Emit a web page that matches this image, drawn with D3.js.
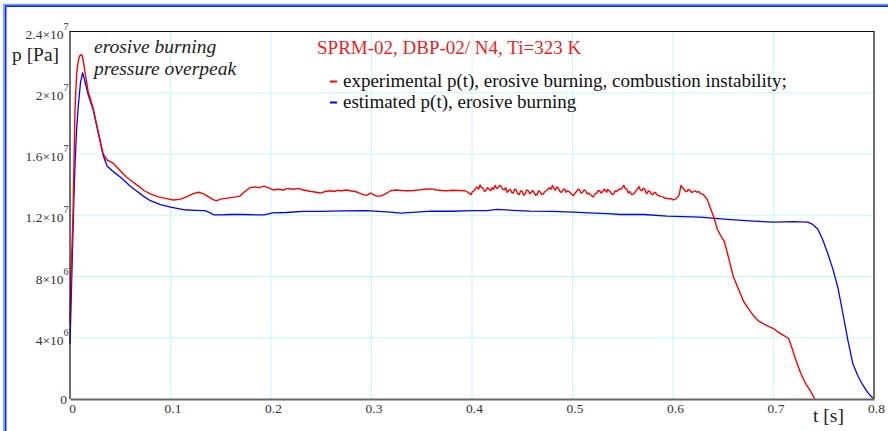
<!DOCTYPE html>
<html>
<head>
<meta charset="utf-8">
<title>SPRM-02 pressure p(t)</title>
<script src="https://d3js.org/d3.v7.min.js"></script>
<style>
  body { margin: 0; background: #fff; }
  svg { display: block; }
  text { font-family: "Liberation Serif", "Times New Roman", serif; }
</style>
</head>
<body>
<div id="chart"></div>
<script>
// experimental p(t): [t in s, p in 10^6 Pa]
var expPts = [
  [0.000,5.0],[0.001,8.0],[0.002,10.0],[0.003,12.0],[0.004,15.5],[0.005,19.0],[0.0066,21.2],[0.008,22.0],[0.0095,22.4],[0.0116,22.5],
  [0.013,22.2],[0.015,21.3],[0.018,20.1],[0.023,19.0],[0.028,17.5],[0.033,16.0],[0.037,15.6],[0.043,15.4],[0.050,14.9],[0.056,14.5],
  [0.062,14.2],[0.068,13.9],[0.074,13.6],[0.080,13.4],[0.088,13.2],[0.095,13.1],[0.103,13.0],[0.110,13.05],[0.116,13.2],[0.122,13.4],
  [0.128,13.5],[0.133,13.4],[0.138,13.2],[0.143,13.0],[0.146,12.95],[0.150,13.05],[0.155,13.1],[0.160,13.15],[0.165,13.2],[0.169,13.25],
  [0.174,13.55],[0.179,13.8],[0.184,13.85],[0.188,13.8],[0.193,13.9],[0.197,13.8],[0.202,13.65],[0.207,13.7],[0.212,13.65],[0.217,13.75],
  [0.222,13.7],[0.227,13.75],[0.232,13.65],[0.236,13.6],[0.240,13.55],[0.245,13.5],[0.249,13.45],[0.254,13.55],[0.259,13.6],[0.263,13.55],
  [0.266,13.62],[0.270,13.6],[0.275,13.65],[0.280,13.58],[0.284,13.55],[0.288,13.45],[0.292,13.35],[0.295,13.3],[0.299,13.45],[0.302,13.35],
  [0.305,13.25],[0.309,13.25],[0.314,13.4],[0.319,13.6],[0.324,13.65],[0.330,13.62],[0.336,13.6],[0.342,13.62],[0.348,13.66],[0.353,13.7],
  [0.359,13.72],[0.365,13.65],[0.370,13.62],[0.375,13.6],[0.381,13.63],[0.387,13.62],[0.393,13.6],[0.396,13.5],[0.399,13.35],[0.4005,13.55],
  [0.402,13.6],[0.4035,13.75],[0.405,13.85],[0.4065,13.7],[0.408,13.98],[0.4095,13.8],[0.411,13.75],[0.4125,13.55],[0.414,13.62],[0.4155,13.8],
  [0.417,13.7],[0.4185,13.6],[0.420,13.8],[0.4215,13.7],[0.423,13.95],[0.4245,13.75],[0.426,13.8],[0.4275,13.95],[0.429,13.9],[0.4305,13.7],
  [0.432,13.65],[0.4335,13.8],[0.435,13.5],[0.4365,13.62],[0.438,13.7],[0.4395,13.5],[0.441,13.45],[0.4425,13.7],[0.444,13.65],[0.4455,13.4],
  [0.447,13.35],[0.4485,13.6],[0.450,13.55],[0.4515,13.3],[0.453,13.4],[0.4545,13.65],[0.456,13.6],[0.4575,13.4],[0.459,13.5],[0.4605,13.62],
  [0.462,13.45],[0.4635,13.3],[0.465,13.38],[0.4665,13.6],[0.468,13.5],[0.4695,13.35],[0.471,13.4],[0.4725,13.55],[0.474,13.6],[0.4755,13.7],
  [0.477,13.8],[0.4785,13.7],[0.480,13.95],[0.4815,13.75],[0.483,13.65],[0.4845,13.85],[0.486,13.75],[0.4875,13.55],[0.489,13.5],[0.4905,13.65],
  [0.492,13.72],[0.4935,13.5],[0.495,13.6],[0.4965,13.55],[0.498,13.45],[0.4995,13.35],[0.501,13.28],[0.5025,13.45],[0.504,13.55],[0.5055,13.7],
  [0.507,13.65],[0.5085,13.45],[0.510,13.5],[0.5115,13.65],[0.513,13.6],[0.5145,13.4],[0.516,13.45],[0.5175,13.35],[0.519,13.3],[0.520,13.2],
  [0.521,13.22],[0.5225,13.4],[0.524,13.45],[0.5255,13.6],[0.527,13.6],[0.5285,13.45],[0.530,13.55],[0.5315,13.7],[0.533,13.6],[0.534,13.5],
  [0.535,13.68],[0.5365,13.6],[0.538,13.5],[0.5395,13.35],[0.541,13.4],[0.5425,13.6],[0.544,13.55],[0.546,13.7],[0.548,13.7],[0.5495,13.8],
  [0.551,13.95],[0.5525,13.75],[0.554,13.7],[0.5555,13.45],[0.557,13.55],[0.559,13.35],[0.561,13.4],[0.5625,13.55],[0.564,13.65],[0.565,13.75],
  [0.566,13.88],[0.5675,13.65],[0.569,13.6],[0.5705,13.75],[0.572,13.7],[0.573,13.5],[0.574,13.4],[0.5755,13.6],[0.577,13.55],[0.5785,13.4],
  [0.580,13.35],[0.5815,13.5],[0.583,13.45],[0.5845,13.3],[0.586,13.28],[0.588,13.22],[0.590,13.2],[0.592,13.1],[0.594,13.12],[0.596,13.05],
  [0.598,13.1],[0.600,13.0],[0.603,13.07],[0.606,13.3],[0.608,13.95],[0.6095,13.8],[0.611,13.7],[0.6125,13.55],[0.614,13.57],[0.6155,13.7],
  [0.617,13.62],[0.6185,13.5],[0.620,13.52],[0.622,13.6],[0.624,13.5],[0.6255,13.55],[0.627,13.45],[0.630,13.35],[0.634,13.05],[0.637,12.5],
  [0.641,11.8],[0.644,11.1],[0.648,10.6],[0.651,10.3],[0.655,9.3],[0.660,8.0],[0.665,7.2],[0.670,6.4],[0.675,5.9],[0.680,5.45],
  [0.685,5.1],[0.690,4.9],[0.695,4.75],[0.700,4.6],[0.705,4.35],[0.710,4.15],[0.715,3.95],[0.718,3.4],[0.722,2.6],[0.727,1.7],
  [0.732,1.0],[0.737,0.5],[0.741,0.0]
];

// estimated p(t): [t in s, p in 10^6 Pa]
var estPts = [
  [0.000,3.6],[0.001,6.0],[0.002,8.5],[0.003,11.0],[0.004,13.3],[0.005,15.3],[0.0065,17.5],[0.0083,19.2],[0.0105,20.7],[0.0126,21.3],
  [0.015,20.7],[0.018,19.9],[0.023,18.9],[0.028,17.4],[0.033,15.9],[0.037,15.2],[0.043,14.85],[0.050,14.5],[0.055,14.2],[0.060,13.9],
  [0.066,13.6],[0.073,13.25],[0.080,12.95],[0.090,12.7],[0.100,12.53],[0.113,12.36],[0.125,12.32],[0.134,12.3],[0.138,12.2],[0.143,12.03],
  [0.150,12.02],[0.160,12.05],[0.173,12.05],[0.185,12.02],[0.193,12.02],[0.202,12.15],[0.215,12.18],[0.232,12.25],[0.250,12.25],[0.270,12.28],
  [0.295,12.3],[0.319,12.2],[0.329,12.14],[0.345,12.2],[0.359,12.27],[0.380,12.26],[0.400,12.3],[0.415,12.3],[0.425,12.38],[0.440,12.32],
  [0.458,12.27],[0.480,12.25],[0.501,12.2],[0.521,12.14],[0.535,12.1],[0.548,12.05],[0.571,12.05],[0.594,11.94],[0.627,11.88],[0.654,11.73],
  [0.680,11.62],[0.700,11.55],[0.720,11.58],[0.734,11.55],[0.739,11.4],[0.744,11.1],[0.749,10.4],[0.754,9.5],[0.759,8.5],[0.764,7.3],
  [0.769,5.6],[0.774,3.84],[0.779,2.3],[0.784,1.5],[0.789,0.9],[0.794,0.4],[0.799,0.05]
];

var xTicks = [0, 0.1, 0.2, 0.3, 0.4, 0.5, 0.6, 0.7, 0.8];
var xTickLabels = ["0", "0.1", "0.2", "0.3", "0.4", "0.5", "0.6", "0.7", "0.8"];
var yTicks = [0, 4, 8, 12, 16, 20, 24];
var yTickMant = ["0", "4\u00d710", "8\u00d710", "1.2\u00d710", "1.6\u00d710", "2\u00d710", "2.4\u00d710"];
var yTickExp = ["", "6", "6", "7", "7", "7", "7"];

var seriesNames = ["experimental p(t), erosive burning, combustion instability;", "estimated p(t), erosive burning"];
var seriesColors = ["#ff0000", "#0000ff"];

function draw() {
  "use strict";
  var W = 888, H = 431;
  var pl = 70, pt = 31.5, pr = 874, pb = 399;

  var svg = d3.select("#chart").append("svg").attr("width", W).attr("height", H);

  var x = d3.scaleLinear().domain([0, 0.8]).range([pl, pr]);
  var y = d3.scaleLinear().domain([0, 24]).range([pb, pt]);

  // outer window frame (top and left only)
  svg.append("path").attr("d", "M3.8,431V4.5H888").attr("fill", "none").attr("stroke", "#6aa6e0").attr("stroke-width", 1.4);
  svg.append("path").attr("d", "M5.6,431V6.2H888").attr("fill", "none").attr("stroke", "#0a28ff").attr("stroke-width", 1.8);

  // grid
  svg.append("g").selectAll("line").data(xTicks.slice(1, -1)).enter().append("line")
    .attr("x1", function (d) { return x(d); }).attr("x2", function (d) { return x(d); })
    .attr("y1", pt).attr("y2", pb)
    .attr("stroke", "#c4f8fa").attr("stroke-width", 1);
  svg.append("g").selectAll("line").data(yTicks.slice(1, -1)).enter().append("line")
    .attr("x1", pl).attr("x2", pr)
    .attr("y1", function (d) { return y(d); }).attr("y2", function (d) { return y(d); })
    .attr("stroke", "#c4f8fa").attr("stroke-width", 1);

  // series
  var line = d3.line()
    .x(function (d) { return x(d[0]); })
    .y(function (d) { return y(d[1]); });

  svg.append("path").datum(estPts).attr("d", line)
    .attr("fill", "none").attr("stroke", seriesColors[1]).attr("stroke-width", 1.3).attr("stroke-linejoin", "round");
  svg.append("path").datum(expPts).attr("d", line)
    .attr("fill", "none").attr("stroke", seriesColors[0]).attr("stroke-width", 1.4).attr("stroke-linejoin", "round");

  // plot frame
  svg.append("path").attr("d", "M" + pl + "," + pb + "V" + pt + "H" + pr + "V" + pb)
    .attr("fill", "none").attr("stroke", "#111").attr("stroke-width", 1.2);

  // x axis
  var xAxis = d3.axisBottom(x).tickValues(xTicks).tickSize(0).tickPadding(4)
    .tickFormat(function (d, i) { return xTickLabels[i]; });
  var gx = svg.append("g").attr("transform", "translate(0," + pb + ")").call(xAxis);
  gx.attr("font-size", null).attr("font-family", null);
  gx.select(".domain").attr("stroke", "#666").attr("stroke-width", 2);
  gx.selectAll("text")
    .style("font-family", "'Liberation Serif', serif").style("font-size", "13.5px")
    .attr("fill", "#333").attr("dx", 2);

  // y tick labels with superscripts
  var yl = svg.append("g").selectAll("text").data(yTicks).enter().append("text")
    .attr("text-anchor", "end")
    .attr("x", function (d, i) { return yTickExp[i] ? 68.5 : 67; })
    .attr("y", function (d) { return y(d) + (d ? 7 : 4.5); })
    .style("font-size", "13.5px").attr("fill", "#333");
  yl.append("tspan").text(function (d, i) { return yTickMant[i]; });
  yl.append("tspan").style("font-size", "10px").attr("dy", -9)
    .text(function (d, i) { return yTickExp[i]; });

  // axis titles
  svg.append("text").attr("x", 12).attr("y", 61).style("font-size", "19.5px").attr("fill", "#222").text("p [Pa]");
  svg.append("text").attr("x", 813).attr("y", 422).style("font-size", "19.5px").attr("fill", "#222").text("t [s]");

  // annotation
  var note = svg.append("text").style("font-size", "19.5px").style("font-style", "italic").attr("fill", "#222");
  note.append("tspan").attr("x", 94).attr("y", 53).text("erosive burning");
  note.append("tspan").attr("x", 94).attr("y", 75).text("pressure overpeak");

  // title and legend
  svg.append("text").attr("x", 317).attr("y", 54).style("font-size", "19px").attr("fill", "#f01c1c")
    .text("SPRM-02, DBP-02/ N4, Ti=323 K");

  var leg = svg.append("g").selectAll("g").data(seriesNames).enter().append("g")
    .attr("transform", function (d, i) { return "translate(0," + (87 + i * 21) + ")"; });
  leg.append("line").attr("x1", 330).attr("x2", 337).attr("y1", -5.5).attr("y2", -5.5)
    .attr("stroke", function (d, i) { return seriesColors[i]; }).attr("stroke-width", 2);
  leg.append("text").attr("x", 343).attr("y", 0).style("font-size", "19px").attr("fill", "#111")
    .text(function (d) { return d; });
}

draw();
</script>
</body>
</html>
